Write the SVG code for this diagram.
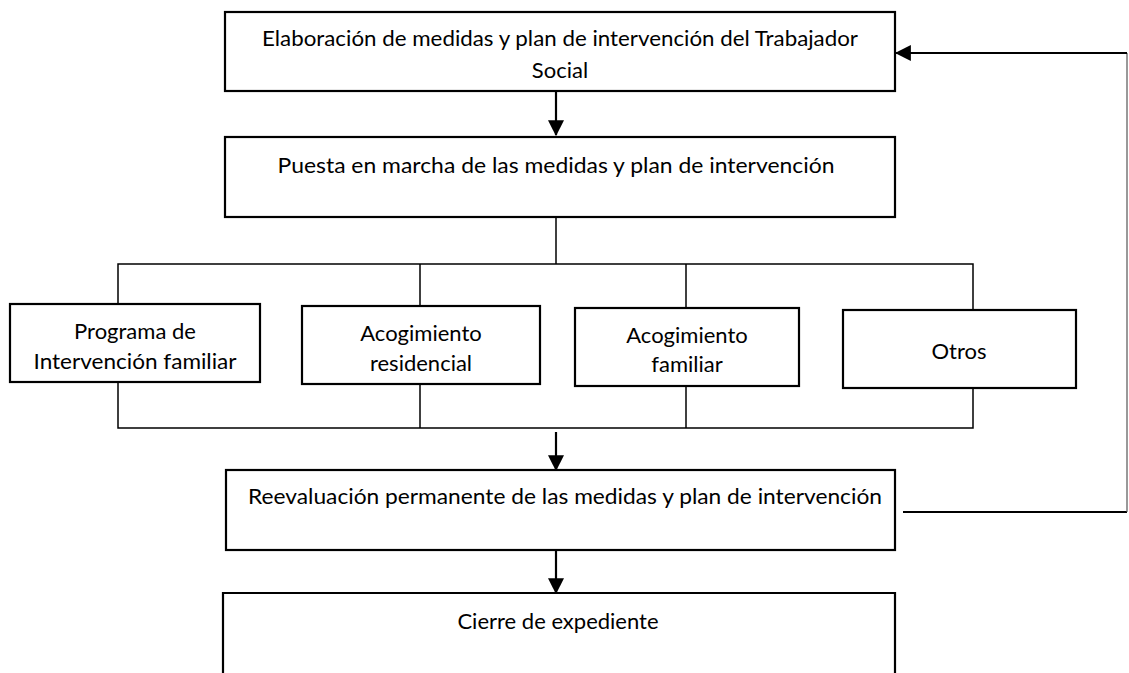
<svg xmlns="http://www.w3.org/2000/svg" width="1129" height="673" viewBox="0 0 1129 673">
<style>
.box{fill:#fff;stroke:#000;stroke-width:2.2}
.t{font-family:Lato,"Open Sans","Liberation Sans",sans-serif;font-size:22px;fill:#000;text-anchor:middle}
.ln{fill:none;stroke:#000;stroke-width:1.5}
.ar{fill:none;stroke:#000;stroke-width:2.2}
</style>
<defs>
<marker id="ah" markerUnits="userSpaceOnUse" markerWidth="16" markerHeight="16" viewBox="0 0 14 14" refX="13" refY="7" orient="auto">
<path d="M0,0 L14,7 L0,14 Z" fill="#000"/>
</marker>
</defs>
<rect width="1129" height="673" fill="#fff"/>
<g id="connectors">
<line class="ar" x1="556" y1="92" x2="556" y2="135" marker-end="url(#ah)"/>
<line class="ln" x1="556" y1="218" x2="556" y2="264"/>
<polyline class="ln" points="118,304 118,264 973,264 973,310"/>
<line class="ln" x1="420" y1="264" x2="420" y2="306"/>
<line class="ln" x1="686" y1="264" x2="686" y2="308"/>
<polyline class="ln" points="118,382 118,428 973,428 973,388"/>
<line class="ln" x1="420" y1="384" x2="420" y2="428"/>
<line class="ln" x1="686" y1="386" x2="686" y2="428"/>
<line class="ar" x1="556" y1="432" x2="556" y2="470" marker-end="url(#ah)"/>
<line class="ar" x1="556" y1="551" x2="556" y2="593" marker-end="url(#ah)"/>
<polyline class="ar" points="903,512 1127,512"/>
<line x1="1127" y1="512" x2="1127" y2="53" stroke="#555" stroke-width="1.2"/>
<line class="ar" x1="1127" y1="53" x2="896" y2="53" marker-end="url(#ah)"/>
</g>
<g id="n1">
<rect class="box" x="225" y="12" width="670" height="79"/>
<text class="t" x="560" y="46" textLength="596" lengthAdjust="spacingAndGlyphs">Elaboración de medidas y plan de intervención del Trabajador</text>
<text class="t" x="560" y="78">Social</text>
</g>
<g id="n2">
<rect class="box" x="225" y="137" width="670" height="80"/>
<text class="t" x="556" y="173" textLength="557" lengthAdjust="spacingAndGlyphs">Puesta en marcha de las medidas y plan de intervención</text>
</g>
<g id="nA">
<rect class="box" x="10" y="304" width="250" height="78"/>
<text class="t" x="135" y="339">Programa de</text>
<text class="t" x="135" y="369" textLength="203" lengthAdjust="spacingAndGlyphs">Intervención familiar</text>
</g>
<g id="nB">
<rect class="box" x="302" y="306" width="238" height="78"/>
<text class="t" x="421" y="341">Acogimiento</text>
<text class="t" x="421" y="371">residencial</text>
</g>
<g id="nC">
<rect class="box" x="575" y="308" width="224" height="78"/>
<text class="t" x="687" y="343">Acogimiento</text>
<text class="t" x="687" y="372">familiar</text>
</g>
<g id="nD">
<rect class="box" x="843" y="310" width="233" height="78"/>
<text class="t" x="959" y="359">Otros</text>
</g>
<g id="nR">
<rect class="box" x="226" y="470" width="669" height="80"/>
<text class="t" x="565" y="504" textLength="634" lengthAdjust="spacingAndGlyphs">Reevaluación permanente de las medidas y plan de intervención</text>
</g>
<g id="nE">
<path class="box" d="M223,680 L223,593 L895,593 L895,680"/>
<text class="t" x="558" y="629">Cierre de expediente</text>
</g>
</svg>
